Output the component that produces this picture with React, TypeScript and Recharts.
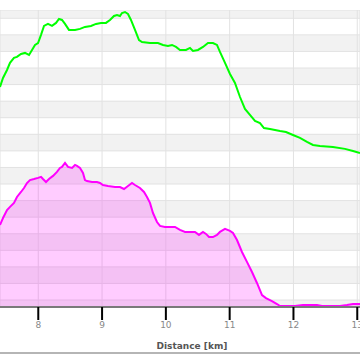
import { ComposedChart, Line, Area, XAxis, YAxis, CartesianGrid, Label } from 'recharts';

// distance axis (km)
const kmTicks = [8, 9, 10, 11, 12, 13];
const gridTicks = [0, 10, 20, 30, 40, 50, 60, 70, 80, 90, 100, 110, 120, 130, 140, 150, 160, 170];

// green series
const greenKm = [
  7.4, 7.447, 7.51, 7.557, 7.619, 7.666, 7.729, 7.792, 7.855, 7.902, 7.949, 7.996, 8.043, 8.09, 8.152,
  8.215, 8.278, 8.325, 8.372, 8.419, 8.481, 8.576, 8.654, 8.732, 8.826, 8.905, 8.983, 9.061, 9.124,
  9.187, 9.234, 9.281, 9.312, 9.359, 9.406, 9.453, 9.516, 9.579, 9.626, 9.751, 9.876, 9.955, 10.033,
  10.096, 10.159, 10.221, 10.315, 10.378, 10.425, 10.503, 10.582, 10.66, 10.738, 10.801, 10.848,
  10.927, 11.005, 11.083, 11.162, 11.24, 11.318, 11.397, 11.475, 11.538, 11.632, 11.789, 11.883,
  11.992, 12.102, 12.212, 12.306, 12.415, 12.619, 12.807, 12.933, 13.043,
];
const greenValue = [
  128.6, 134.0, 138.8, 143.1, 146.1, 146.7, 148.5, 149.1, 147.9, 150.9, 153.9, 155.1, 160.0, 165.4, 166.6,
  165.4, 167.2, 169.6, 169.0, 166.6, 163.0, 163.0, 163.6, 164.8, 165.4, 166.6, 167.2, 167.2, 169.0,
  171.4, 172.0, 171.4, 173.2, 173.8, 172.6, 169.0, 163.0, 156.9, 155.7, 155.1, 155.1, 153.9, 153.3,
  153.9, 152.7, 150.9, 150.9, 152.1, 150.3, 150.9, 152.7, 155.1, 155.1, 153.9, 149.7,
  143.1, 136.4, 131.0, 122.5, 115.3, 111.7, 108.1, 106.8, 103.8, 103.2, 102.0, 101.4,
  99.6, 97.8, 95.4, 93.6, 93.0, 92.4, 91.2, 89.9, 88.7,
];

// magenta series
const pinkKm = [
  7.4, 7.447, 7.51, 7.557, 7.619, 7.666, 7.729, 7.776, 7.823, 7.87, 7.933, 7.996, 8.043, 8.074, 8.121,
  8.168, 8.231, 8.293, 8.34, 8.372, 8.419, 8.466, 8.529, 8.576, 8.607, 8.654, 8.701, 8.732, 8.764,
  8.842, 8.92, 8.967, 9.014, 9.093, 9.203, 9.281, 9.344, 9.406, 9.469, 9.516, 9.594, 9.657, 9.704,
  9.751, 9.798, 9.861, 9.908, 9.986, 10.065, 10.143, 10.221, 10.3, 10.378, 10.456, 10.519, 10.582,
  10.629, 10.676, 10.738, 10.801, 10.848, 10.927, 11.005, 11.052, 11.115, 11.193, 11.271, 11.35,
  11.428, 11.507, 11.569, 11.663, 11.742, 11.789, 11.898, 12.024, 12.149, 12.259, 12.369, 12.447,
  12.572, 12.729, 12.839, 12.933, 13.043,
];
const pinkValue = [
  45.3, 49.5, 54.3, 56.2, 58.6, 62.2, 65.2, 67.6, 70.6, 72.4, 73.0, 73.7, 74.3, 73.0, 71.2,
  73.0, 74.9, 77.3, 79.7, 80.3, 82.7, 80.3, 79.7, 81.5, 80.9, 79.7, 76.7, 72.4, 71.8,
  71.2, 71.2, 70.6, 69.4, 68.8, 68.2, 68.2, 67.0, 68.8, 70.6, 69.4, 67.6, 65.2, 62.2,
  58.6, 52.5, 47.1, 44.7, 44.1, 44.1, 44.1, 42.3, 41.1, 41.1, 41.1, 39.3, 41.1,
  39.9, 38.0, 38.0, 39.3, 41.1, 42.9, 41.7, 40.5, 36.2, 29.0, 23.0, 16.9,
  10.3, 3.0, 1.2, -0.6, -2.4, -3.6, -3.6, -3.6, -3.0, -3.0, -3.0, -3.6,
  -3.6, -3.6, -3.0, -2.4, -2.4,
];

const greenData = greenKm.map((km, i) => ({ km, v: greenValue[i] }));
const pinkData = pinkKm.map((km, i) => ({ km, v: pinkValue[i] }));

export default function App() {
  return (
    <div style={{ position: 'absolute', left: 0, top: 0, width: 360, height: 354, background: '#fff', overflow: 'hidden' }}>
      <div style={{ position: 'absolute', left: 0, top: 10 }}>
        <ComposedChart width={360} height={344} margin={{ top: 0, right: 0, bottom: 17, left: 0 }}>
          <CartesianGrid
            stroke="#e2e2e2"
            strokeWidth={1}
            horizontalFill={['#f2f2f2', '#ffffff']}
            fillOpacity={1}
          />
          <XAxis
            dataKey="km"
            type="number"
            domain={[7.4, 13.043]}
            ticks={kmTicks}
            interval={0}
            allowDataOverflow
            height={30}
            stroke="#777"
            axisLine={{ stroke: '#7a7a7a', strokeWidth: 2 }}
            tickLine={{ stroke: '#000', strokeWidth: 2 }}
            tickSize={13}
            tickMargin={2}
            tick={{ fill: '#888', fontSize: 9, fontFamily: 'DejaVu Sans' }}
          >
            <Label
              value="Distance [km]"
              position="bottom"
              offset={6}
              dx={12}
              fill="#555"
              fontSize={9}
              fontWeight="bold"
              fontFamily="DejaVu Sans"
            />
          </XAxis>
          <YAxis
            type="number"
            domain={[-4.2, 175]}
            ticks={gridTicks}
            interval={0}
            tick={{ fontSize: 1 }}
            allowDataOverflow
            hide
          />
          <Area
            data={pinkData}
            dataKey="v"
            type="linear"
            stroke="#ff00ff"
            strokeWidth={2}
            fill="#ff00ff"
            fillOpacity={0.2}
            baseValue="dataMin"
            dot={false}
            activeDot={false}
            isAnimationActive={false}
          />
          <Line
            data={greenData}
            dataKey="v"
            type="linear"
            stroke="#00ff00"
            strokeWidth={2}
            dot={false}
            activeDot={false}
            isAnimationActive={false}
          />
        </ComposedChart>
      </div>
      <div style={{ position: 'absolute', left: 0, top: 352, width: 360, height: 2, background: '#b5b5b5' }} />
    </div>
  );
}
